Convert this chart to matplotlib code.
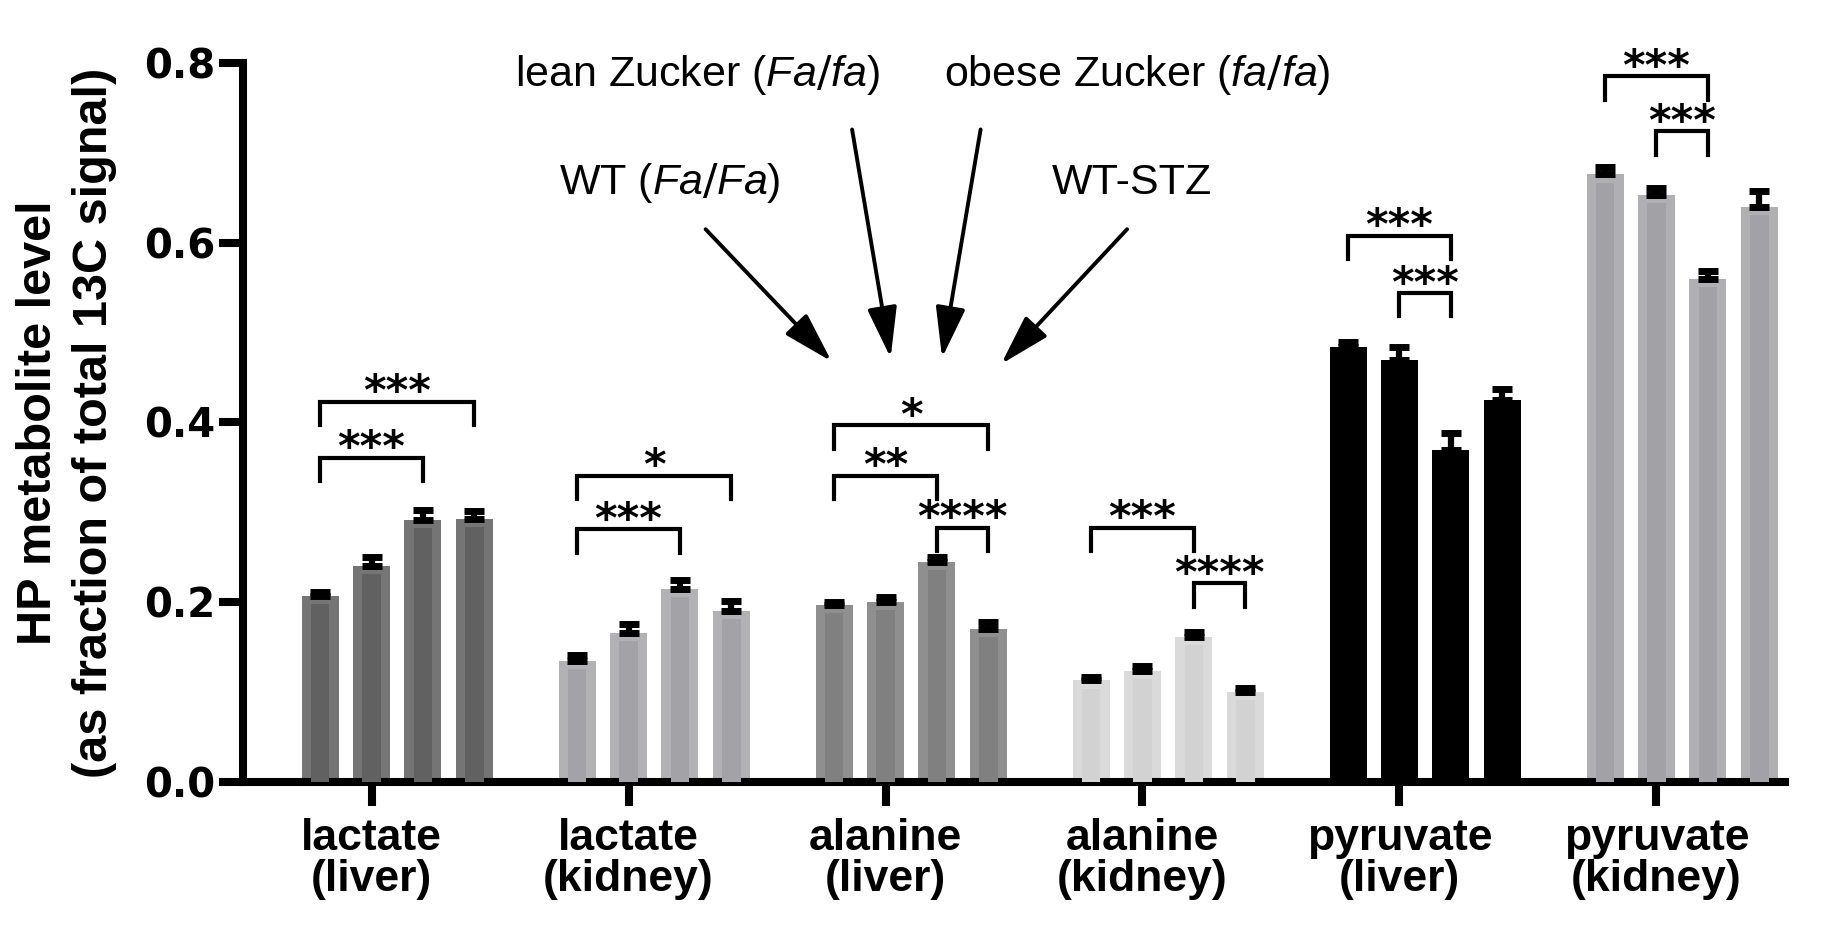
import numpy as np
import matplotlib.pyplot as plt
from matplotlib.ticker import FormatStrFormatter

# metabolite / tissue groups
groups = ['lactate\n(liver)', 'lactate\n(kidney)', 'alanine\n(liver)',
          'alanine\n(kidney)', 'pyruvate\n(liver)', 'pyruvate\n(kidney)']
strains = ['WT (Fa/Fa)', 'lean Zucker (Fa/fa)', 'obese Zucker (fa/fa)', 'WT-STZ']

# mean values, one row per group, columns = strains
means = [
    [0.207, 0.240, 0.292, 0.293],
    [0.135, 0.166, 0.215, 0.190],
    [0.197, 0.200, 0.245, 0.170],
    [0.113, 0.124, 0.161, 0.100],
    [0.484, 0.469, 0.369, 0.425],
    [0.676, 0.653, 0.560, 0.640],
]
# standard errors (upper only)
sems = [
    [0.004, 0.010, 0.011, 0.009],
    [0.006, 0.010, 0.010, 0.011],
    [0.003, 0.006, 0.005, 0.008],
    [0.004, 0.005, 0.006, 0.005],
    [0.006, 0.015, 0.019, 0.012],
    [0.008, 0.008, 0.009, 0.018],
]

# significance brackets: group, first bar, second bar, bracket height, label
sig_group = [0, 0, 1, 1, 2, 2, 2, 3, 3, 4, 4, 5, 5]
sig_a     = [0, 0, 0, 0, 0, 0, 2, 0, 2, 0, 1, 0, 1]
sig_b     = [3, 2, 3, 2, 3, 2, 3, 2, 3, 2, 2, 2, 2]
sig_top   = [0.423, 0.361, 0.341, 0.281, 0.397, 0.341, 0.283,
             0.283, 0.221, 0.608, 0.544, 0.785, 0.724]
sig_label = ['***', '***', '*', '***', '*', '**', '****',
             '***', '****', '***', '***', '***', '***']

outer_col = ['#757575', '#b2b2b4', '#8f8f8f', '#dadada', '#000000', '#b0b0b2']
inner_col = ['#616161', '#a3a3a7', '#808080', '#d2d2d2', '#000000', '#a2a2a6']

means = np.array(means)
sems = np.array(sems)
xg = np.arange(len(groups))
offs = (np.arange(4) - 1) * 0.2   # tick sits under the 2nd bar of each group
w = 0.144

fig = plt.figure(figsize=(18.3, 9.3), dpi=100)
ax = fig.add_axes([0.1328, 0.1591, 0.8426, 0.7732])

for g in range(len(groups)):
    xs = xg[g] + offs
    ax.bar(xs, means[g], width=w, color=outer_col[g], zorder=2)
    ax.bar(xs, means[g] - 0.009, width=w * 0.5, color=inner_col[g], zorder=3)
    ax.errorbar(xs, means[g], yerr=[np.zeros(4), sems[g]], fmt='none',
                ecolor='black', elinewidth=4.5, capsize=7.5, capthick=5, zorder=4)

# brackets
for g, a, b, top, lab in zip(sig_group, sig_a, sig_b, sig_top, sig_label):
    x1 = xg[g] + offs[a]
    x2 = xg[g] + offs[b]
    ax.plot([x1, x1, x2, x2], [top - 0.026, top, top, top - 0.026],
            color='black', lw=3, solid_joinstyle='miter', zorder=5)
    ax.text((x1 + x2) / 2, top - 0.004, lab, ha='center', va='baseline',
            fontsize=31, fontweight='bold', family='DejaVu Sans')

# strain labels with arrows
txt_x = [1.16, 1.27, 2.98, 2.96]
txt_y = [0.667, 0.787, 0.787, 0.667]
arr_start = [(1.30, 0.615), (1.87, 0.726), (2.37, 0.726), (2.94, 0.615)]
arr_end = [(1.79, 0.468), (2.02, 0.472), (2.22, 0.472), (2.45, 0.465)]
labels_tex = [r'WT ($\it{Fa/Fa}$)', r'lean Zucker ($\it{Fa/fa}$)',
              r'obese Zucker ($\it{fa/fa}$)', 'WT-STZ']
plt.rcParams['mathtext.fontset'] = 'custom'
plt.rcParams['mathtext.it'] = 'Liberation Sans:italic'
for i in range(4):
    ax.text(txt_x[i], txt_y[i], labels_tex[i], ha='center', va='center',
            fontsize=31, family='Liberation Sans')
    ax.annotate('', xy=arr_end[i], xytext=arr_start[i],
                arrowprops=dict(arrowstyle='-|>,head_length=1.3,head_width=0.38',
                                color='black', lw=2.8, mutation_scale=24,
                                shrinkA=0, shrinkB=0))

ax.set_xlim(-0.5, 5.5)
ax.set_ylim(0, 0.8)
ax.set_yticks([0.0, 0.2, 0.4, 0.6, 0.8])
ax.yaxis.set_major_formatter(FormatStrFormatter('%.1f'))
ax.set_xticks(xg)
ax.set_xticklabels(groups, fontsize=32, fontweight='bold',
                   family='Liberation Sans', linespacing=1.0)
for t in ax.get_yticklabels():
    t.set_fontsize(29)
    t.set_fontweight('bold')
    t.set_family('DejaVu Sans')

for s in ['top', 'right']:
    ax.spines[s].set_visible(False)
for s in ['left', 'bottom']:
    ax.spines[s].set_linewidth(5.8)
ax.tick_params(axis='both', direction='out', length=17, width=5.8, pad=3)
ax.tick_params(axis='x', pad=9)

ax.set_ylabel('HP metabolite level\n(as fraction of total 13C signal)',
              fontsize=35, fontweight='bold', family='Liberation Sans',
              linespacing=1.3)
ax.yaxis.set_label_coords(-0.082, 0.5)

fig.savefig('out.png', dpi=100)
